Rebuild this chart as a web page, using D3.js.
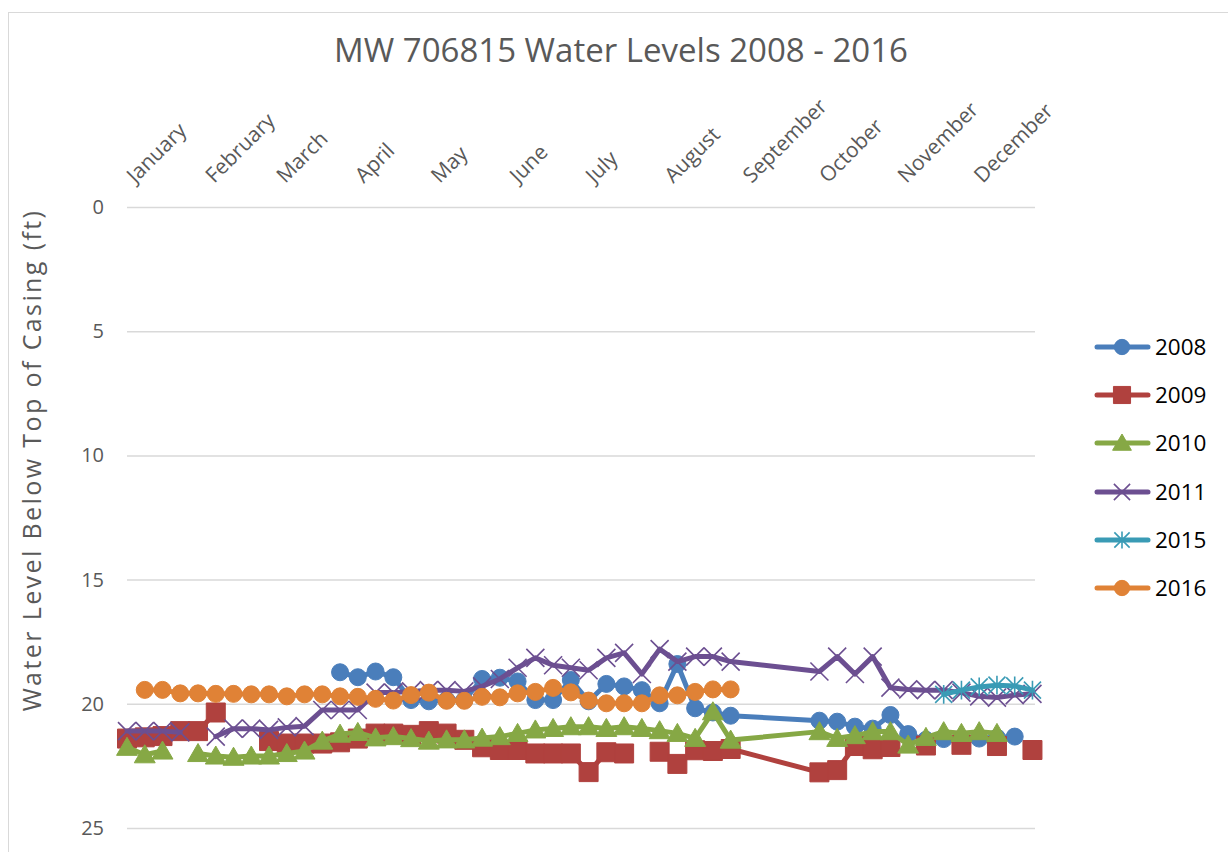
<!DOCTYPE html>
<html>
<head>
<meta charset="utf-8">
<script src="https://cdn.jsdelivr.net/npm/d3@7"></script>
<style>
  html, body { margin: 0; padding: 0; background: #ffffff; }
  svg { display: block; }
</style>
</head>
<body>
<svg id="chart" width="1228" height="852"></svg>
<script>
// ---------------- DATA ----------------
const chartTitle = "MW 706815 Water Levels 2008 - 2016";
const yAxisTitle = "Water Level Below Top of Casing (ft)";
const yTicks = [0, 5, 10, 15, 20, 25];
const seriesNames = ["2008", "2009", "2010", "2011", "2015", "2016"];

// shared measurement dates (month/day, all years folded onto one year)
const dates = ["Jan 1","Jan 8","Jan 15","Jan 22","Jan 29","Feb 5","Feb 12","Feb 19","Feb 26",
  "Mar 5","Mar 12","Mar 19","Mar 26","Apr 2","Apr 9","Apr 16","Apr 23","Apr 30","May 7",
  "May 14","May 21","May 28","Jun 4","Jun 11","Jun 18","Jun 25","Jul 2","Jul 9","Jul 16",
  "Jul 23","Jul 30","Aug 6","Aug 13","Aug 20","Aug 27",
  "Oct 1","Oct 8","Oct 15","Oct 22","Oct 29","Nov 5","Nov 12","Nov 19","Nov 26","Dec 3",
  "Dec 10","Dec 17","Dec 24"];

const v2008 = [null,null,null,null,null,null,null,null,null,null,null,null,
  18.73,18.93,18.70,18.93,19.85,19.90,19.85,19.85,19.00,18.95,19.10,19.85,19.85,19.04,
  19.90,19.20,19.30,19.45,19.98,18.40,20.18,20.35,20.48,
  20.68,20.72,20.92,21.00,20.45,21.22,21.45,21.42,21.40,21.40,21.36,21.32,null];

const v2009 = [21.40,21.35,21.30,21.10,21.10,20.35,null,null,21.50,21.60,21.60,21.60,
  21.55,21.40,21.20,21.20,21.25,21.10,21.20,21.45,21.75,21.86,21.86,22.00,22.00,22.00,
  22.75,21.95,22.00,null,21.93,22.42,21.87,21.90,21.82,
  22.76,22.67,21.70,21.83,21.74,null,21.68,null,21.65,null,21.70,null,21.86];

const v2010 = [21.75,22.05,21.90,null,22.00,22.10,22.15,22.10,22.10,22.00,21.90,21.50,
  21.22,21.15,21.37,21.32,21.40,21.50,21.45,21.45,21.38,21.32,21.19,21.05,20.99,20.92,
  20.92,20.99,20.92,20.99,21.08,21.19,21.39,20.32,21.46,
  21.12,21.39,21.28,21.12,21.12,21.66,21.35,21.12,21.19,21.12,21.19,null,null];

const v2011 = [21.10,21.10,21.10,21.15,null,21.32,21.00,21.00,21.05,20.95,20.90,20.25,
  20.25,20.25,19.55,19.55,19.50,19.45,19.45,19.50,19.30,19.00,18.55,18.15,18.45,18.55,
  18.65,18.15,17.95,18.80,17.80,18.30,18.10,18.10,18.30,
  18.70,18.10,18.80,18.10,19.35,19.42,19.45,19.45,19.55,19.70,19.75,19.65,19.60];

const v2015 = [null,null,null,null,null,null,null,null,null,null,null,null,
  null,null,null,null,null,null,null,null,null,null,null,null,null,null,
  null,null,null,null,null,null,null,null,null,
  null,null,null,null,null,null,null,19.62,19.45,19.32,19.25,19.28,19.45];

const v2016 = [null,19.44,19.44,19.58,19.58,19.60,19.60,19.62,19.62,19.70,19.62,19.62,
  19.70,19.72,19.80,19.87,19.65,19.55,19.88,19.88,19.72,19.74,19.58,19.52,19.36,19.54,
  19.87,19.98,19.98,19.98,19.66,19.66,19.52,19.42,19.42,
  null,null,null,null,null,null,null,null,null,null,null,null,null];

const seriesValues = [v2008, v2009, v2010, v2011, v2015, v2016];
const seriesColors = ["#4A7EBB", "#B0413E", "#86A845", "#6C4F91", "#3A9BB5", "#E08236"];
const seriesMarkers = ["circle", "square", "triangle", "x", "star", "circle"];

// ---------------- LAYOUT ----------------
const plot = { left: 127, right: 1035, top: 207, bottom: 828 };
const svg = d3.select("#chart");
const textGrey = "#595959";
const font = "'Open Sans', 'DejaVu Sans', sans-serif";

// chart border
svg.append("rect")
  .attr("x", 8.5).attr("y", 12.5).attr("width", 1300).attr("height", 900)
  .attr("fill", "none").attr("stroke", "#D9D9D9").attr("stroke-width", 1);

const parse = d3.timeParse("%b %d");
const xDates = dates.map(parse);
const yearStart = new Date(1900, 0, 1);
const x = d3.scaleTime()
  .domain([yearStart, new Date(1900, 11, 25)])
  .range([plot.left, plot.right]);
const y = d3.scaleLinear().domain([0, 25]).range([plot.top, plot.bottom]);

// title
svg.append("text")
  .attr("x", 621).attr("y", 62)
  .attr("text-anchor", "middle")
  .attr("font-family", font).attr("font-size", 33)
  .attr("fill", textGrey)
  .text(chartTitle);

// y axis with gridlines
const yAxis = d3.axisLeft(y).tickValues(yTicks).tickSize(-(plot.right - plot.left)).tickPadding(23);
const gy = svg.append("g").attr("transform", `translate(${plot.left},0)`).call(yAxis);
gy.select(".domain").remove();
gy.selectAll(".tick line").attr("stroke", "#D9D9D9").attr("stroke-width", 1.5);
gy.selectAll(".tick text").attr("font-family", font).attr("font-size", 20).attr("fill", textGrey);

// y title
svg.append("text")
  .attr("transform", `translate(41,460) rotate(-90)`)
  .attr("text-anchor", "middle")
  .attr("font-family", font).attr("font-size", 25)
  .attr("letter-spacing", 2.4)
  .attr("fill", textGrey)
  .text(yAxisTitle);

// x axis (top) with month labels
const monthStarts = d3.timeMonth.range(yearStart, new Date(1901, 0, 1));
const xAxis = d3.axisTop(x).tickValues(monthStarts).tickFormat(d3.timeFormat("%B")).tickSize(0);
const gx = svg.append("g").attr("transform", `translate(0,190)`).call(xAxis);
gx.select(".domain").remove();
gx.selectAll(".tick text")
  .attr("font-family", font).attr("font-size", 21).attr("fill", textGrey)
  .attr("text-anchor", "start")
  .attr("x", 0).attr("y", 0).attr("dy", 0)
  .attr("transform", "translate(8,-6) rotate(-45)");

// markers
function markerPath(type, size) {
  const s = size / 2;
  if (type === "circle") return d3.symbol(d3.symbolCircle, Math.PI * s * s)();
  if (type === "square") return d3.symbol(d3.symbolSquare, size * size)();
  if (type === "triangle") return `M0,${-s * 1.05}L${s * 1.1},${s * 0.85}L${-s * 1.1},${s * 0.85}Z`;
  if (type === "x") return `M${-s},${-s}L${s},${s}M${-s},${s}L${s},${-s}`;
  if (type === "star") return `M${-s},${-s}L${s},${s}M${-s},${s}L${s},${-s}M0,${-s * 1.1}L0,${s * 1.1}`;
  return "";
}
const markerSizes = { circle: 17, square: 19, triangle: 19, x: 18, star: 17 };
function drawMarker(g, type, color, cx, cy, scale) {
  const size = markerSizes[type] * (scale || 1);
  const p = g.append("path").attr("d", markerPath(type, size))
    .attr("transform", `translate(${cx},${cy})`);
  if (type === "x" || type === "star") {
    p.attr("fill", "none").attr("stroke", color).attr("stroke-width", 1.6);
  } else {
    p.attr("fill", color).attr("stroke", color).attr("stroke-width", 1);
  }
}

const line = d3.line()
  .defined(d => d.v !== null)
  .x(d => x(d.date))
  .y(d => y(d.v));

const gSeries = svg.append("g");
seriesNames.forEach((name, si) => {
  const pts = xDates.map((d, i) => ({ date: d, v: seriesValues[si][i] }));
  const g = gSeries.append("g");
  g.append("path")
    .datum(pts)
    .attr("d", line)
    .attr("fill", "none")
    .attr("stroke", seriesColors[si])
    .attr("stroke-width", 5)
    .attr("stroke-linejoin", "round")
    .attr("stroke-linecap", "round");
  pts.filter(p => p.v !== null).forEach(p => {
    drawMarker(g, seriesMarkers[si], seriesColors[si], x(p.date), y(p.v));
  });
});

// legend
const legendRows = [347, 395, 443, 492, 540, 588];
const gl = svg.append("g");
seriesNames.forEach((name, si) => {
  const cy = legendRows[si];
  gl.append("line")
    .attr("x1", 1097).attr("x2", 1148).attr("y1", cy).attr("y2", cy)
    .attr("stroke", seriesColors[si]).attr("stroke-width", 5).attr("stroke-linecap", "round");
  drawMarker(gl, seriesMarkers[si], seriesColors[si], 1122, cy, 0.9);
  gl.append("text")
    .attr("x", 1155).attr("y", cy + 8)
    .attr("font-family", font).attr("font-size", 22.5)
    .attr("fill", "#000000")
    .text(name);
});
</script>
</body>
</html>
